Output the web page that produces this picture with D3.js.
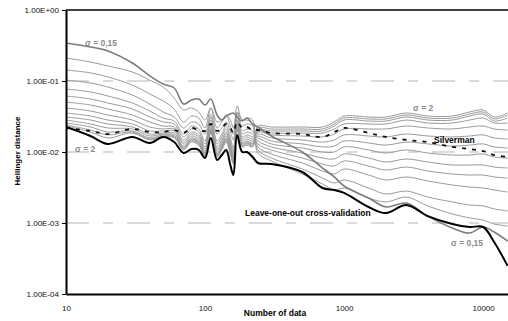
<!DOCTYPE html>
<html>
<head>
<meta charset="utf-8">
<script src="https://cdn.jsdelivr.net/npm/d3@7"></script>
<style>
body { margin: 0; background: #fff; }
svg { display: block; font-family: "Liberation Sans", Arial, sans-serif; }
</style>
</head>
<body>
<div id="container"></div>
<script>
// Number of data (x positions shared by every curve)
var nData = [10, 15, 20, 30, 40, 50, 60, 70, 80, 90, 100, 110, 122, 132, 142, 152, 160, 170, 185, 200, 220,
    240, 300, 500, 700, 850, 1000, 1500, 2000, 2800, 4000, 6000, 8000, 10000, 12000, 15000];

// Hellinger distance for each fixed bandwidth sigma
var sigmaLabels = ["0,15", "0,2", "0,25", "0,3", "0,35", "0,4", "0,5", "0,6", "0,7", "0,8", "1", "1,25", "1,5", "2"];
var s015 = [0.343, 0.301, 0.265, 0.179, 0.118, 0.0907, 0.0797,
    0.0474, 0.0540, 0.0558, 0.0459, 0.0558, 0.0332, 0.0282, 0.0321, 0.0343, 0.0354, 0.0311, 0.0273, 0.0301, 0.0248,
    0.0225, 0.0168, 0.0100, 0.00595, 0.00445, 0.00332, 0.00225, 0.00168, 0.00191, 0.00125, 0.000850, 0.000723, 0.000878, 0.000747, 0.000558];
var s02 = [0.211, 0.185, 0.163, 0.134, 0.103, 0.0823, 0.0576,
    0.0391, 0.0417, 0.0366, 0.0282, 0.0417, 0.0265, 0.0282, 0.0332, 0.0282, 0.0218, 0.0366, 0.0282, 0.0282, 0.0248,
    0.00968, 0.00747, 0.00490, 0.00354, 0.00292, 0.00311, 0.00225, 0.00198, 0.00232, 0.00174, 0.00134, 0.00118, 0.00110, 0.000968, 0.000907];
var s025 = [0.143, 0.130, 0.114, 0.0878, 0.0656, 0.0523, 0.0403,
    0.0265, 0.0321, 0.0301, 0.0218, 0.0417, 0.0218, 0.0265, 0.0321, 0.0232, 0.0179, 0.0445, 0.0282, 0.0301, 0.0282,
    0.0107, 0.00823, 0.00576, 0.00430, 0.00366, 0.00403, 0.00311, 0.00256, 0.00282, 0.00232, 0.00198, 0.00179, 0.00174, 0.00158, 0.00148];
var s03 = [0.103, 0.0937, 0.0823, 0.0635, 0.0474, 0.0366, 0.0311,
    0.0218, 0.0265, 0.0248, 0.0179, 0.0343, 0.0179, 0.0218, 0.0265, 0.0191, 0.0148, 0.0366, 0.0232, 0.0248, 0.0232,
    0.0118, 0.00937, 0.00700, 0.00540, 0.00490, 0.00576, 0.00474, 0.00403, 0.00445, 0.00391, 0.00343, 0.00321, 0.00311, 0.00292, 0.00273];
var s035 = [0.0771, 0.0700, 0.0615, 0.0490, 0.0378, 0.0301, 0.0273,
    0.0179, 0.0232, 0.0211, 0.0143, 0.0311, 0.0143, 0.0179, 0.0232, 0.0158, 0.0114, 0.0343, 0.0198, 0.0211, 0.0198,
    0.0130, 0.0107, 0.00823, 0.00678, 0.00635, 0.00747, 0.00635, 0.00558, 0.00615, 0.00540, 0.00490, 0.00474, 0.00474, 0.00445, 0.00430];
var s04 = [0.0615, 0.0558, 0.0490, 0.0403, 0.0311, 0.0265, 0.0248,
    0.0163, 0.0211, 0.0191, 0.0130, 0.0282, 0.0130, 0.0163, 0.0211, 0.0143, 0.0103, 0.0311, 0.0179, 0.0191, 0.0179,
    0.0143, 0.0118, 0.00968, 0.00823, 0.00797, 0.00937, 0.00823, 0.00723, 0.00797, 0.00723, 0.00656, 0.00656, 0.00656, 0.00615, 0.00595];
var s05 = [0.0506, 0.0459, 0.0403, 0.0332, 0.0265, 0.0232, 0.0225,
    0.0148, 0.0191, 0.0174, 0.0118, 0.0256, 0.0118, 0.0148, 0.0191, 0.0130, 0.00937, 0.0282, 0.0163, 0.0174, 0.0163,
    0.0158, 0.0130, 0.0114, 0.0100, 0.0100, 0.0118, 0.0107, 0.00968, 0.0107, 0.00968, 0.00907, 0.00907, 0.00937, 0.00850, 0.00823];
var s06 = [0.0417, 0.0378, 0.0332, 0.0282, 0.0225, 0.0211, 0.0211,
    0.0138, 0.0179, 0.0163, 0.0110, 0.0240, 0.0110, 0.0138, 0.0179, 0.0121, 0.00878, 0.0265, 0.0152, 0.0163, 0.0152,
    0.0168, 0.0143, 0.0130, 0.0118, 0.0121, 0.0143, 0.0134, 0.0125, 0.0138, 0.0130, 0.0121, 0.0125, 0.0130, 0.0118, 0.0114];
var s07 = [0.0354, 0.0321, 0.0282, 0.0248, 0.0198, 0.0198, 0.0198,
    0.0130, 0.0168, 0.0152, 0.0103, 0.0225, 0.0103, 0.0130, 0.0168, 0.0114, 0.00823, 0.0248, 0.0143, 0.0152, 0.0143,
    0.0179, 0.0158, 0.0148, 0.0138, 0.0148, 0.0174, 0.0168, 0.0163, 0.0179, 0.0168, 0.0163, 0.0168, 0.0174, 0.0158, 0.0152];
var s08 = [0.0311, 0.0282, 0.0248, 0.0225, 0.0179, 0.0185, 0.0185,
    0.0121, 0.0158, 0.0143, 0.00968, 0.0211, 0.00968, 0.0121, 0.0158, 0.0107, 0.00771, 0.0232, 0.0134, 0.0143, 0.0134,
    0.0191, 0.0174, 0.0168, 0.0163, 0.0179, 0.0211, 0.0211, 0.0211, 0.0232, 0.0218, 0.0211, 0.0225, 0.0232, 0.0211, 0.0204];
var s10 = [0.0282, 0.0248, 0.0218, 0.0211, 0.0168, 0.0179, 0.0174,
    0.0118, 0.0152, 0.0138, 0.00937, 0.0204, 0.00937, 0.0118, 0.0152, 0.0103, 0.00747, 0.0225, 0.0130, 0.0138, 0.0130,
    0.0198, 0.0185, 0.0185, 0.0185, 0.0211, 0.0248, 0.0248, 0.0248, 0.0282, 0.0256, 0.0256, 0.0282, 0.0301, 0.0256, 0.0256];
var s125 = [0.0256, 0.0225, 0.0191, 0.0198, 0.0158, 0.0174, 0.0168,
    0.0114, 0.0148, 0.0134, 0.00907, 0.0198, 0.00907, 0.0114, 0.0148, 0.0100, 0.00723, 0.0218, 0.0125, 0.0134, 0.0125,
    0.0204, 0.0198, 0.0198, 0.0198, 0.0232, 0.0282, 0.0273, 0.0273, 0.0311, 0.0282, 0.0282, 0.0321, 0.0343, 0.0273, 0.0301];
var s15 = [0.0240, 0.0204, 0.0174, 0.0191, 0.0152, 0.0168, 0.0163,
    0.0110, 0.0143, 0.0130, 0.00878, 0.0191, 0.00878, 0.0110, 0.0143, 0.00968, 0.00700, 0.0211, 0.0121, 0.0130, 0.0121,
    0.0218, 0.0211, 0.0211, 0.0211, 0.0248, 0.0301, 0.0292, 0.0292, 0.0332, 0.0301, 0.0301, 0.0343, 0.0366, 0.0292, 0.0332];
var s20 = [0.0232, 0.0191, 0.0158, 0.0185, 0.0148, 0.0163, 0.0158,
    0.0107, 0.0138, 0.0125, 0.00850, 0.0185, 0.00850, 0.0107, 0.0138, 0.00937, 0.00678, 0.0204, 0.0118, 0.0125, 0.0118,
    0.0232, 0.0225, 0.0225, 0.0225, 0.0265, 0.0321, 0.0311, 0.0311, 0.0354, 0.0321, 0.0321, 0.0366, 0.0391, 0.0311, 0.0354];

// automatic bandwidth choices
var silverman = [0.0218, 0.0198, 0.0179, 0.0211, 0.0191, 0.0191, 0.0204,
    0.0185, 0.0218, 0.0204, 0.0198, 0.0248, 0.0198, 0.0218, 0.0248, 0.0218, 0.0185, 0.0265, 0.0218, 0.0225, 0.0204,
    0.0204, 0.0185, 0.0179, 0.0163, 0.0191, 0.0218, 0.0185, 0.0163, 0.0148, 0.0138, 0.0118, 0.0110, 0.0103, 0.00907, 0.00850];
var looCV = [0.0225, 0.0168, 0.0130, 0.0163, 0.0134, 0.0163, 0.0138,
    0.00968, 0.0110, 0.0107, 0.00823, 0.0158, 0.00771, 0.00907, 0.0107, 0.00656, 0.00474, 0.0174, 0.0100, 0.0100, 0.00850,
    0.00700, 0.00678, 0.00523, 0.00311, 0.00292, 0.00265, 0.00168, 0.00138, 0.00179, 0.00125, 0.000968, 0.000878, 0.000878, 0.000540, 0.000250];

// axes
var xTicks = [10, 100, 1000, 10000];
var xTickLabels = ["10", "100", "1000", "10000"];
var yTicks = [1e-4, 1e-3, 1e-2, 1e-1, 1];
var yTickLabels = ["1.00E-04", "1.00E-03", "1.00E-02", "1.00E-01", "1.00E+00"];
var gridValues = [1e-3, 1e-2, 1e-1];

var width = 508;
var height = 321;
var svg = d3.select("div#container").append("svg")
    .attr("width", width)
    .attr("height", height);

var x = d3.scaleLog().domain([10, 15100]).range([66, 508]);
var y = d3.scaleLog().domain([1e-4, 1]).range([294, 10]);

// dashed grid
svg.append("g").selectAll("line")
    .data(gridValues)
    .enter()
    .append("line")
    .attr("x1", x(10)).attr("x2", width)
    .attr("y1", function(d) { return y(d); })
    .attr("y2", function(d) { return y(d); })
    .attr("stroke", "#b4b4b4")
    .attr("stroke-width", 1)
    .attr("stroke-dasharray", "23,14,10,14");

svg.append("defs").append("clipPath").attr("id", "plot")
    .append("rect").attr("x", 66).attr("y", 10).attr("width", 442).attr("height", 284);

var line = d3.line()
    .x(function(d, i) { return x(nData[i]); })
    .y(function(d) { return y(d); })
    .curve(d3.curveCatmullRom.alpha(0.5));

var curves = svg.append("g").attr("clip-path", "url(#plot)");

// thin sigma curves, sigma = 2 drawn first
var grayCurves = [s20, s15, s125, s10, s08, s07, s06, s05, s04, s035, s03, s025, s02];
curves.selectAll("path.sigma")
    .data(grayCurves)
    .enter()
    .append("path")
    .attr("class", "sigma")
    .attr("d", line)
    .attr("fill", "none")
    .attr("stroke", "#9a9a9a")
    .attr("stroke-width", 1);

curves.append("path")
    .attr("d", line(s015))
    .attr("fill", "none")
    .attr("stroke", "#7c7c7c")
    .attr("stroke-width", 1.6);

curves.append("path")
    .attr("d", line(silverman))
    .attr("fill", "none")
    .attr("stroke", "#111")
    .attr("stroke-width", 1.8)
    .attr("stroke-dasharray", "4,6");

curves.append("path")
    .attr("d", line(looCV))
    .attr("fill", "none")
    .attr("stroke", "#000")
    .attr("stroke-width", 2);

// frame
svg.append("line")
    .attr("x1", 66).attr("x2", width)
    .attr("y1", y(1)).attr("y2", y(1))
    .attr("stroke", "#000").attr("stroke-width", 1.5);

var yAxis = d3.axisLeft(y)
    .tickValues(yTicks)
    .tickFormat(function(d, i) { return yTickLabels[i]; })
    .tickSize(4)
    .tickSizeOuter(0)
    .tickPadding(3);

var xAxis = d3.axisBottom(x)
    .tickValues(xTicks)
    .tickFormat(function(d, i) { return xTickLabels[i]; })
    .tickSize(0)
    .tickSizeOuter(0)
    .tickPadding(11);

var gx = svg.append("g")
    .attr("transform", "translate(0,294)")
    .call(xAxis);
gx.select(".domain").attr("stroke-width", 2);
gx.selectAll("text").attr("font-size", 8).attr("font-family", "Liberation Sans, Arial, sans-serif").attr("fill", "#111");

var gy = svg.append("g")
    .attr("transform", "translate(66,0)")
    .call(yAxis);
gy.select(".domain").attr("stroke-width", 2);
gy.selectAll("text").attr("font-size", 8).attr("font-family", "Liberation Sans, Arial, sans-serif").attr("fill", "#111");

// axis titles
svg.append("text")
    .attr("x", 275).attr("y", 316)
    .attr("text-anchor", "middle")
    .attr("font-size", 8.5).attr("font-weight", "bold")
    .text("Number of data");

svg.append("text")
    .attr("transform", "translate(20,151) rotate(-90)")
    .attr("text-anchor", "middle")
    .attr("font-size", 8).attr("font-weight", "bold")
    .text("Hellinger distance");

// curve annotations
function note(px, py, txt, color) {
    svg.append("text")
        .attr("x", px).attr("y", py)
        .attr("font-size", 8.5).attr("font-weight", "bold")
        .attr("fill", color)
        .text(txt);
}
note(85, 46, "\u03c3 = " + sigmaLabels[0], "#8a8a8a");
note(75, 152, "\u03c3 = " + sigmaLabels[13], "#8a8a8a");
note(413, 111, "\u03c3 = " + sigmaLabels[13], "#8a8a8a");
note(451, 246, "\u03c3 = " + sigmaLabels[0], "#8a8a8a");
note(434, 143, "Silverman", "#000");
note(245, 216, "Leave-one-out cross-validation", "#000");
</script>
</body>
</html>
